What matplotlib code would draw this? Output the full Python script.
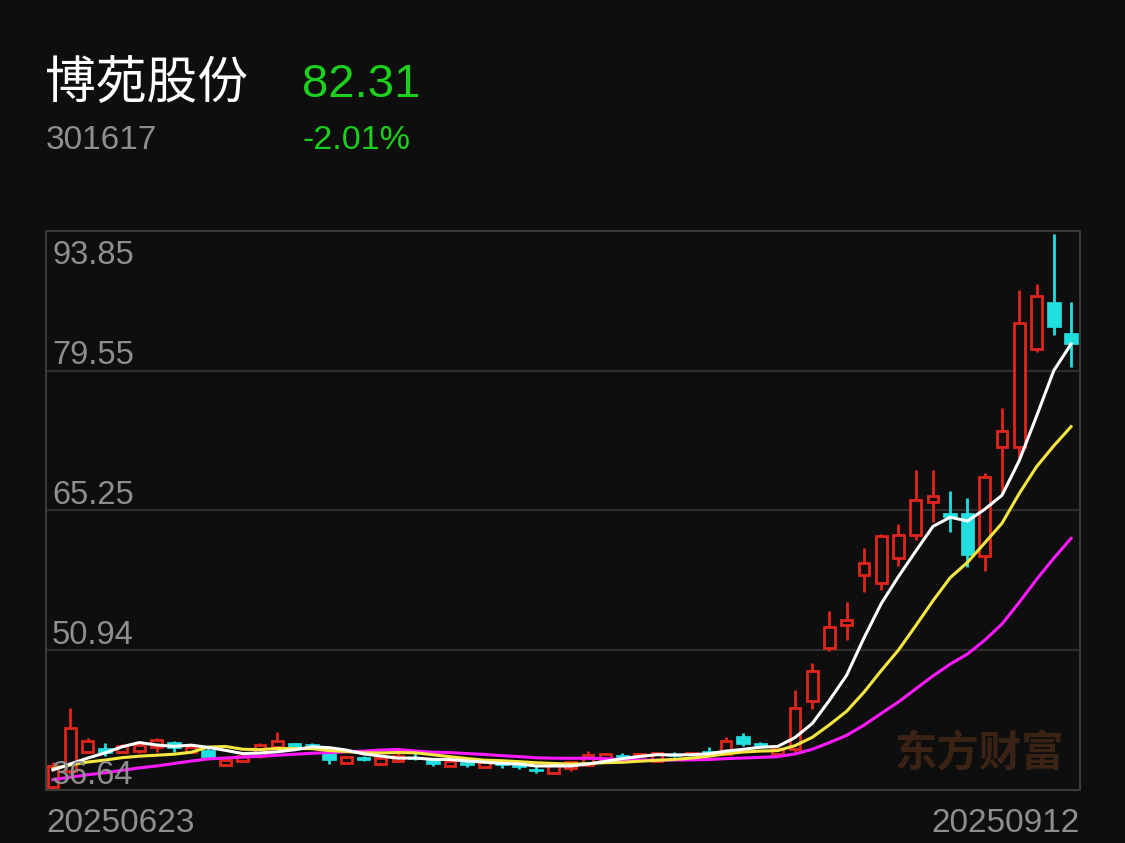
import numpy as np
import pandas as pd
import matplotlib
matplotlib.use("Agg")
import matplotlib.pyplot as plt

plt.rcParams['font.family'] = ['Noto Sans CJK SC', 'DejaVu Sans']

# ---------------- data ----------------
name = "博苑股份"
code = "301617"
last_price = "82.31"
pct_change = "-2.01%"
start_date = "20250623"
end_date = "20250912"

opens = [36.96, 38.59, 40.53, 40.94, 40.53, 40.63, 41.04, 41.55, 40.53, 40.74,
         39.21, 39.61, 40.12, 41.04, 41.45, 41.30, 40.43, 39.41, 40.00, 39.31,
         39.61, 40.02, 39.82, 39.10, 39.51, 39.00, 39.51, 39.20, 38.80, 38.39,
         38.90, 39.20, 39.51, 40.20, 40.10, 39.61, 40.30, 40.30, 40.60, 40.33,
         42.17, 41.45, 40.33, 40.84, 45.74, 51.16, 53.50, 58.61, 57.79, 60.35,
         62.70, 66.07, 64.94, 64.94, 60.55, 71.79, 71.79, 81.80, 86.60, 83.43]
closes = [39.10, 42.98, 41.66, 40.43, 41.15, 41.25, 41.76, 40.94, 41.04, 40.02,
          39.72, 40.12, 41.25, 41.66, 41.04, 41.20, 39.72, 40.02, 39.70, 39.92,
          40.12, 39.82, 39.31, 39.61, 39.20, 39.51, 39.20, 39.00, 38.59, 39.20,
          39.51, 40.22, 40.33, 40.00, 40.30, 40.43, 40.10, 40.40, 40.50, 41.66,
          41.35, 41.15, 40.84, 45.03, 48.81, 53.30, 54.01, 59.84, 62.60, 62.70,
          66.27, 66.68, 64.54, 60.65, 68.72, 73.42, 84.45, 87.21, 84.00, 82.31]
highs = [39.50, 45.03, 41.96, 41.45, 41.35, 41.40, 41.96, 41.66, 41.20, 40.90,
         39.80, 40.20, 41.45, 42.58, 41.50, 41.40, 40.60, 40.10, 40.10, 40.00,
         40.43, 40.40, 39.90, 39.70, 39.70, 39.60, 39.60, 39.50, 39.20, 39.30,
         39.60, 40.63, 40.40, 40.43, 40.40, 40.50, 40.50, 40.50, 41.00, 42.07,
         42.48, 41.60, 40.90, 46.87, 49.63, 54.93, 55.85, 61.37, 62.80, 63.82,
         69.34, 69.34, 67.29, 66.48, 69.13, 75.77, 87.82, 88.44, 93.50, 86.60]
lows = [36.70, 38.30, 40.40, 40.12, 40.40, 40.43, 40.53, 40.53, 40.40, 39.80,
        39.10, 39.50, 39.92, 41.00, 41.00, 41.10, 39.31, 39.30, 39.60, 39.20,
        39.50, 39.70, 39.10, 39.00, 39.00, 38.90, 38.90, 38.80, 38.40, 38.30,
        38.59, 39.10, 39.40, 39.90, 40.00, 39.50, 40.00, 40.20, 40.30, 40.20,
        41.15, 41.00, 40.00, 40.50, 44.93, 50.85, 51.97, 56.88, 57.08, 59.53,
        62.19, 64.03, 63.00, 59.43, 59.02, 67.00, 70.46, 81.50, 83.23, 79.96]

# moving-average values at the left edge (history before the window)
ma5_head = [38.7, 39.3, 39.9, 40.43]
ma10_head = [38.8, 39.2, 39.5, 39.7, 39.95, 40.1, 40.2, 40.3, 40.5]
ma20_head = [37.7, 37.95, 38.2, 38.4, 38.65, 38.9, 39.1, 39.35, 39.6, 39.82,
             39.92, 40.0, 40.1, 40.2, 40.3, 40.4, 40.47, 40.55, 40.62]

y_ticks = [93.85, 79.55, 65.25, 50.94, 36.64]

# ---------------- styling ----------------
BG = '#0e0e0e'
RED = '#e0251d'
CYAN = '#22dfdf'
GREEN = '#1bd01b'
GRAY = '#8e8e8e'
NUMFONT = ['Liberation Sans', 'DejaVu Sans']
W, H = 1125, 843

fig = plt.figure(figsize=(W / 100, H / 100), dpi=100, facecolor=BG)

def fx(x):
    return x / W

def fy(y):
    return 1 - y / H

left, right, top, bottom = 46, 1080, 231, 790
ax = fig.add_axes([fx(left), fy(bottom), (right - left) / W, (bottom - top) / H])
ax.set_facecolor(BG)

o = np.array(opens)
c = np.array(closes)
hi = np.array(highs)
lo = np.array(lows)
n = len(o)
x = np.arange(n)
up = c >= o

cl = pd.Series(c)
ma5 = cl.rolling(5).mean().to_numpy()
ma10 = cl.rolling(10).mean().to_numpy()
ma20 = cl.rolling(20).mean().to_numpy()
ma5[:len(ma5_head)] = ma5_head
ma10[:len(ma10_head)] = ma10_head
ma20[:len(ma20_head)] = ma20_head

# wicks
wick_colors = [RED if u else CYAN for u in up]
ax.vlines(x, lo, hi, colors=wick_colors, linewidth=2.0, zorder=2)

# bodies
body_bottom = np.minimum(o, c)
body_h = np.maximum(np.abs(c - o), 0.15)
ax.bar(x[up], body_h[up], bottom=body_bottom[up], width=0.62,
       facecolor=BG, edgecolor=RED, linewidth=2.0, zorder=3)
ax.bar(x[~up], body_h[~up], bottom=body_bottom[~up], width=0.8,
       facecolor=CYAN, edgecolor=CYAN, linewidth=0.5, zorder=3)

# moving averages
ax.plot(x, ma20, color='#ff1aff', linewidth=2.2, zorder=4, solid_joinstyle='round')
ax.plot(x, ma10, color='#f5e640', linewidth=2.2, zorder=4, solid_joinstyle='round')
ax.plot(x, ma5, color='#ffffff', linewidth=2.2, zorder=5, solid_joinstyle='round')

ax.set_xlim(-0.406, n - 1 + 0.52)
ax.set_ylim(y_ticks[-1], y_ticks[0])
ax.set_xticks([])
ax.set_yticks([])
for s in ax.spines.values():
    s.set_color('#3a3a3a')
    s.set_linewidth(1.5)
for v in y_ticks[1:-1]:
    ax.axhline(v, color='#2d2d2d', linewidth=1.6, zorder=1)

# watermark
ax.text(0.903, 0.063, "东方财富", transform=ax.transAxes, fontsize=30.5,
        fontweight='bold', color='#3a2314', ha='center', va='center', zorder=0.5)

# y labels (inside the plot)
label_bottoms = [264, 364, 504, 644, 784]
for v, yb in zip(y_ticks, label_bottoms):
    fig.text(fx(52), fy(yb), f"{v:.2f}", fontsize=23.5, color=GRAY,
             ha='left', va='baseline', zorder=6, family=NUMFONT)

# date labels
fig.text(fx(46), fy(832), start_date, fontsize=24, color=GRAY, ha='left',
         va='baseline', family=NUMFONT)
fig.text(fx(1080), fy(832), end_date, fontsize=24, color=GRAY, ha='right',
         va='baseline', family=NUMFONT)

# header
fig.text(fx(45), fy(98), name, fontsize=36.5, color='white', ha='left', va='baseline')
fig.text(fx(302), fy(97), last_price, fontsize=34, color=GREEN, ha='left',
         va='baseline', family=NUMFONT)
fig.text(fx(46), fy(149), code, fontsize=24, color=GRAY, ha='left', va='baseline',
         family=NUMFONT)
fig.text(fx(302), fy(149), pct_change, fontsize=24.5, color=GREEN, ha='left',
         va='baseline', family=NUMFONT)

fig.savefig("out.png", dpi=100, facecolor=BG)
